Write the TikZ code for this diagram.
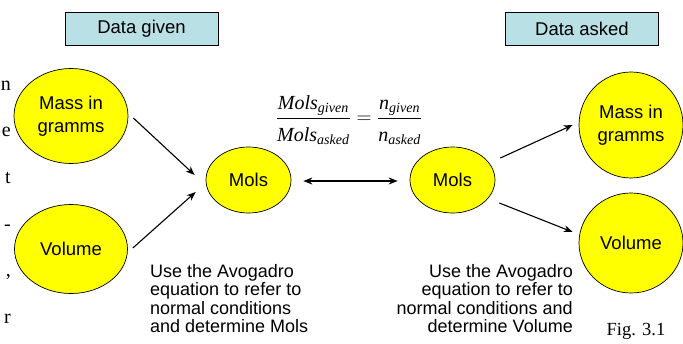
\documentclass[tikz,border=0pt]{standalone}
\usepackage{amsmath}
\usepackage{fontspec}
\setmainfont{Liberation Serif}
\newfontfamily\arialf{Liberation Sans}
\usetikzlibrary{shapes.geometric,arrows.meta,calc}
\definecolor{boxcol}{RGB}{185,224,228}
\definecolor{ellcol}{RGB}{255,255,0}
\begin{document}
\begin{tikzpicture}[x=1pt,y=-1pt,
  ell/.style={ellipse, draw, line width=0.7pt, fill=ellcol, inner sep=0pt, font=\arialf\fontsize{18.5}{22.5}\selectfont, align=center},
  hdr/.style={draw, line width=0.7pt, fill=boxcol, minimum width=153pt, minimum height=33pt, inner sep=0pt, font=\arialf\fontsize{18.5}{21}\selectfont},
  arr/.style={line width=1.1pt, -{Stealth[length=9pt,width=7pt]}},
  arrtwo/.style={line width=1.1pt, {Stealth[length=9pt,width=7pt]}-{Stealth[length=9pt,width=7pt]}},
  note/.style={font=\arialf\fontsize{18}{18.5}\selectfont, inner sep=0pt},
  marg/.style={font=\fontsize{20}{24}\selectfont, anchor=base east, inner sep=0pt}]
\useasboundingbox (0,0) rectangle (683,343);
% margin fragments
\node[marg] (c1) at (11,90) {n};
\node[marg] (c2) at (11,136.7) {e};
\node[marg] (c3) at (11,183.4) {t};
\node[marg] (c4) at (11,230) {-};
\node[marg] (c5) at (11,276.8) {,};
\node[marg] (c6) at (11,323.5) {r};
% headers
\node[hdr] (given) at (141.5,28.5) {Data given};
\node[hdr] (asked) at (582,28.5) {Data asked};
% ellipses
\node[ell, minimum width=114pt, minimum height=95pt] (massL) at (71,116) {Mass in\\gramms};
\node[ell, minimum width=113pt, minimum height=89pt] (volL) at (71,249) {Volume};
\node[ell, minimum width=85pt, minimum height=66pt] (molsL) at (248.5,180) {Mols};
\node[ell, minimum width=85pt, minimum height=66pt] (molsR) at (452.5,180) {Mols};
\node[ell, minimum width=104pt, minimum height=106pt] (massR) at (631,125) {Mass in\\gramms};
\node[ell, minimum width=104pt, minimum height=100pt] (volR) at (631,243) {Volume};
% formula
\node[font=\fontsize{20}{24}\selectfont, inner sep=0pt] (eq) at (349,120) {$\dfrac{\textit{Mols}_{\textit{given}}}{\rule{0pt}{20pt}\textit{Mols}_{\textit{asked}}}=\dfrac{\textit{n}_{\textit{given}}}{\rule{0pt}{20pt}\textit{n}_{\textit{asked}}}$};
% notes
\node[note, align=left, anchor=north west] (noteL) at (150,264) {Use the Avogadro\\equation to refer to\\normal conditions\\and determine Mols};
\node[note, align=right, anchor=north east] (noteR) at (573,264) {Use the Avogadro\\equation to refer to\\normal conditions and\\determine Volume};
\node[font=\fontsize{18.5}{22}\selectfont, anchor=base, inner sep=0pt] (fig) at (636,335) {Fig. 3.1};
% connectors
\draw[arr] ($(massL.east)+(5,2)$) -- ($(molsL.west)+(-11,-5)$);
\draw[arr] ($(volL.east)+(5,-1)$) -- ($(molsL.west)+(-10,12)$);
\draw[arrtwo] ($(molsL.east)+(12,1)$) -- ($(molsR.west)+(-12,1)$);
\draw[arr] ($(molsR.east)+(5,-22)$) -- ($(massR.west)+(-6,0)$);
\draw[arr] ($(molsR.east)+(4,23)$) -- ($(volR.west)+(-6,-11)$);
\end{tikzpicture}
\end{document}
